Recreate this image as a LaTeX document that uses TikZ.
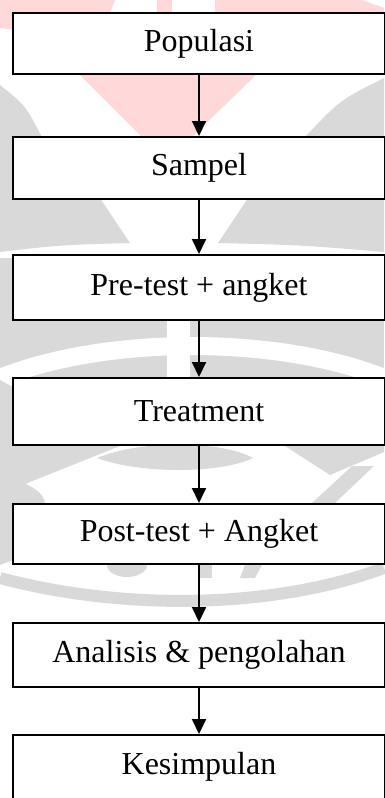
\documentclass[tikz,border=0pt]{standalone}
\usepackage{fontspec}
\setmainfont{Liberation Serif}
\usetikzlibrary{arrows.meta}
\definecolor{wmpink}{RGB}{255,217,217}
\definecolor{wmgrey}{RGB}{217,217,217}
\tikzset{
  stepbox/.style={draw,line width=2pt,fill=white,minimum width=372pt,minimum height=#1,inner sep=0pt,font=\fontsize{32}{38}\selectfont},
  arr/.style={line width=2pt,-{Triangle[width=14pt,length=15pt]}}
}
\begin{document}
\begin{tikzpicture}[x=1pt,y=-1pt]
\useasboundingbox (0,0) rectangle (384,798);
% watermark
\fill[wmpink](0,0)--(115,0)--(100,40)--(0,28)--cycle;
\fill[wmpink](157,0)--(172,0)--(172,14)--(157,14)--cycle;
\fill[wmpink](215,0)--(362,0)--(384,8)--(384,14)--(215,14)--cycle;
\fill[wmpink](80,75)--(256,75)--(192,137)--(142,137)--cycle;
%
\fill[wmgrey](0,85) .. controls (25,105) .. (42,137)--(100,198)--(130,243) .. controls (60,245) .. (0,252)--cycle;
\fill[wmgrey](384,78) .. controls (340,100) .. (305,137)--(248,198)--(218,243) .. controls (300,245) .. (384,252)--cycle;
\fill[wmgrey](0,258) rectangle (384,380);
\draw[white,line width=18pt](-10,382) .. controls (100,334) and (284,334) .. (394,382);
\fill[white](167,321) rectangle (190,380);
%
\fill[wmgrey](0,380)--(120,446)--(15,488)--(0,490)--cycle;
\fill[wmgrey](97,458) .. controls (140,440) and (220,440) .. (253,458) .. controls (220,474) and (140,474) .. cycle;
\fill[wmgrey](285,446)--(384,446)--(384,452)--(330,475)--cycle;
\fill[wmgrey](352,466)--(374,466)--(335,503)--(312,503)--cycle;
\fill[wmgrey](0,478) .. controls (30,480) and (45,495) .. (45,503)--(13,560)--(0,565)--cycle;
%
\draw[wmgrey,line width=12pt](0,578) .. controls (120,610) and (270,610) .. (384,568);
\fill[wmgrey](107,565) arc[start angle=180,end angle=0,x radius=20,y radius=12]--cycle;
\fill[wmgrey](200,565) rectangle (212,578);
\fill[wmgrey](245,565)--(262,565)--(255,578)--(240,578)--cycle;
% boxes
\node[stepbox=61pt](pop) at (199,43.5) {Populasi};
\node[stepbox=62pt](sam) at (199,168) {Sampel};
\node[stepbox=65pt](pre) at (199,287.5) {Pre-test + angket};
\node[stepbox=67pt](tre) at (199,411.5) {Treatment};
\node[stepbox=60pt](post) at (199,534) {Post-test + Angket};
\node[stepbox=64pt](ana) at (199,655) {Analisis \& pengolahan};
\node[stepbox=64pt](kes) at (199,767) {Kesimpulan};
% arrows
\draw[arr](pop)--(sam);
\draw[arr](sam)--(pre);
\draw[arr](pre)--(tre);
\draw[arr](tre)--(post);
\draw[arr](post)--(ana);
\draw[arr](ana)--(kes);
\end{tikzpicture}
\end{document}
